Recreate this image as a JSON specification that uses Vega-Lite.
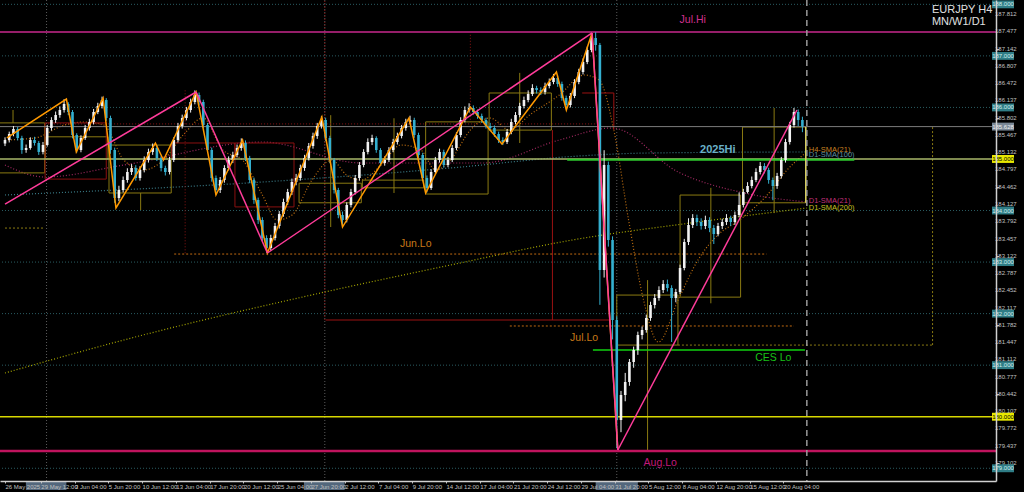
{
"$schema": "https://vega.github.io/schema/vega-lite/v6.json",
"width": 996, "height": 481,
"autosize": {"type": "none"},
"padding": {"left": 0, "top": 0, "right": 28, "bottom": 11},
"background": "#000000",
"config": {"view": {"stroke": null}, "font": "Liberation Sans", "axis": {"labelOverlap": false}},
"resolve": {"scale": {"color": "independent"}},
"layer": [
{"data": {"values": [{"p":188},{"p":187},{"p":186},{"p":184},{"p":183},{"p":182},{"p":181},{"p":179}]},
 "mark": {"type":"rule","color":"#2a5c62","strokeDash":[1,2],"strokeWidth":1},
 "encoding": {"y": {"field":"p","type":"quantitative","scale":{"domain":[178.753,188.084],"nice":false,"zero":false},
   "axis": {"orient":"right","title":null,"values":[187.812,187.477,187.142,186.807,186.472,186.137,185.802,185.467,185.132,184.797,184.462,184.127,183.792,183.457,183.122,182.787,182.452,182.117,181.782,181.447,181.112,180.777,180.442,180.107,179.772,179.437,179.102],
   "labels":false,"tickColor":"#c0c0c0","tickSize":3,"domainColor":"#d0d0d0","domainWidth":1.5,"grid":false,"zindex":1}}}},
{"data": {"values": [{"v":187.812},{"v":187.477},{"v":187.142},{"v":186.807},{"v":186.472},{"v":186.137},{"v":185.802},{"v":185.467},{"v":185.132},{"v":184.797},{"v":184.462},{"v":184.127},{"v":183.792},{"v":183.457},{"v":183.122},{"v":182.787},{"v":182.452},{"v":182.117},{"v":181.782},{"v":181.447},{"v":181.112},{"v":180.777},{"v":180.442},{"v":180.107},{"v":179.772},{"v":179.437},{"v":179.102}]},
 "mark": {"type":"text","fontSize":6,"align":"left","baseline":"middle","color":"#c0c0c0","dx":4},
 "encoding": {"x": {"datum":467.4,"type":"quantitative"},"y": {"field":"v","type":"quantitative"},"text": {"field":"v","type":"quantitative","format":".3f"}}},
{"data": {"values": [{"i":19.7},{"i":151.6},{"i":290}]},
 "mark": {"type":"rule","color":"#5c5c5c","strokeDash":[1,2]},
 "encoding": {"x": {"field":"i","type":"quantitative","scale":{"domain":[0,467.4],"nice":false,"zero":false},
   "axis": {"orient":"bottom","title":null,"values":[0,17,33,49,65,81,97,113,129,145,161,177,193,209,225,241,257,273,289,305,321,337,353,369],
   "labelExpr":"datum.value < 10 ? '26 May 2025' : ['29 May 12:00','3 Jun 04:00','5 Jun 20:00','10 Jun 12:00','13 Jun 04:00','17 Jun 20:00','20 Jun 12:00','25 Jun 04:00','27 Jun 20:00','2 Jul 12:00','7 Jul 04:00','9 Jul 20:00','14 Jul 12:00','17 Jul 04:00','21 Jul 20:00','24 Jul 12:00','29 Jul 04:00','31 Jul 20:00','5 Aug 12:00','8 Aug 04:00','12 Aug 20:00','15 Aug 12:00','20 Aug 04:00'][round((datum.value-17)/16)]",
   "labelAlign":"left","labelFontSize":6,"labelColor":"#c0c0c0","tickColor":"#c0c0c0","tickSize":2,"domainColor":"#d0d0d0","domainWidth":1.5,"labelPadding":0,"grid":false,"labelOverlap":false,"labelBound":false,"labelFlush":false,"zindex":1}}}},
{"data": {"values": [{"i":0,"p":180.848},{"i":56.3,"p":181.488},{"i":151.6,"p":182.419},{"i":211.2,"p":182.943},{"i":268.9,"p":183.428},{"i":328.5,"p":183.777},{"i":380.1,"p":184.049}]},
 "mark": {"type":"line","color":"#a8a800","strokeDash":[1,2],"strokeWidth":1.2,"interpolate":"monotone"},
 "encoding": {"x": {"field":"i","type":"quantitative"},"y": {"field":"p","type":"quantitative"}}},
{"data": {"values": [{"i":0,"p":184.301},{"i":122,"p":184.553},{"i":211.2,"p":184.825},{"i":272.2,"p":185.058},{"i":305,"p":185.116},{"i":380.1,"p":185.136}]},
 "mark": {"type":"line","color":"#3a7c88","strokeDash":[1,2],"strokeWidth":1.2,"interpolate":"monotone"},
 "encoding": {"x": {"field":"i","type":"quantitative"},"y": {"field":"p","type":"quantitative"}}},
{"data": {"values": [{"i":0,"p":184.883},{"i":18.8,"p":184.65},{"i":56.3,"p":184.883},{"i":122,"p":185.329},{"i":168.9,"p":184.922},{"i":226.7,"p":184.922},{"i":262.8,"p":185.368},{"i":287.7,"p":185.601},{"i":319.1,"p":184.747},{"i":350.5,"p":184.34},{"i":380.1,"p":184.165}]},
 "mark": {"type":"line","color":"#a02860","strokeDash":[1,2],"strokeWidth":1.2,"interpolate":"monotone"},
 "encoding": {"x": {"field":"i","type":"quantitative"},"y": {"field":"p","type":"quantitative"}}},
{"data": {"values": [{"i":0,"p":185.368},{"i":14.1,"p":185.407},{"i":28.2,"p":185.659},{"i":37.5,"p":185.717},{"i":46.9,"p":185.659},{"i":56.3,"p":184.98},{"i":65.7,"p":184.786},{"i":75.1,"p":184.98},{"i":84.5,"p":185.465},{"i":93.9,"p":185.795},{"i":103.2,"p":185.174},{"i":112.6,"p":184.98},{"i":122,"p":184.301},{"i":129,"p":183.816},{"i":136.1,"p":183.913},{"i":145.5,"p":184.592},{"i":154.9,"p":184.98},{"i":161.9,"p":184.689},{"i":168.9,"p":184.592},{"i":178.3,"p":184.883},{"i":187.7,"p":185.271},{"i":197.1,"p":185.174},{"i":204.1,"p":184.786},{"i":211.2,"p":184.98},{"i":220.6,"p":185.562},{"i":229.9,"p":185.795},{"i":239.3,"p":185.562},{"i":248.7,"p":185.853},{"i":262.8,"p":186.241},{"i":274.5,"p":186.629},{"i":281.6,"p":186.532},{"i":288.6,"p":185.562},{"i":295.6,"p":183.816},{"i":302.7,"p":182.264},{"i":309.7,"p":181.449},{"i":319.1,"p":182.264},{"i":328.5,"p":183.04},{"i":337.9,"p":183.525},{"i":348.2,"p":183.816},{"i":361.3,"p":184.301},{"i":370.7,"p":184.786},{"i":380.1,"p":185.136}]},
 "mark": {"type":"line","color":"#c07010","strokeDash":[1,2],"strokeWidth":1.2,"interpolate":"monotone"},
 "encoding": {"x": {"field":"i","type":"quantitative"},"y": {"field":"p","type":"quantitative"}}},
{"data": {"values": [{"a":-10.8,"b":18.8,"lo":184.73,"hi":185.7},{"a":19.2,"b":48.8,"lo":185.0,"hi":185.43},{"a":49.3,"b":78.8,"lo":184.34,"hi":185.27},{"a":139.4,"b":168.9,"lo":184.15,"hi":184.53},{"a":169.4,"b":198.5,"lo":184.44,"hi":184.59},{"a":199.4,"b":229,"lo":184.32,"hi":185.72},{"a":229.5,"b":259,"lo":185.56,"hi":186.28},{"a":290,"b":319,"lo":181.39,"hi":182.36},{"a":320,"b":348.7,"lo":182.32,"hi":184.3},{"a":349.6,"b":379.6,"lo":184.15,"hi":185.62}]},
 "mark": {"type":"rect","filled":false,"color":"#8a7a12","strokeWidth":1},
 "encoding": {"x": {"field":"a","type":"quantitative"},"x2": {"field":"b"},"y": {"field":"lo","type":"quantitative"},"y2": {"field":"hi"}}},
{"data": {"values": [{"i":3.8,"lo":185.7,"hi":185.95},{"i":64.3,"lo":184.01,"hi":184.34},{"i":154.4,"lo":183.68,"hi":185.85},{"i":184.4,"lo":184.34,"hi":185.79},{"i":244,"lo":185.31,"hi":186.67},{"i":304.6,"lo":179.35,"hi":182.65},{"i":334.6,"lo":182.2,"hi":184.44},{"i":364.6,"lo":183.95,"hi":185.99}]},
 "mark": {"type":"rule","color":"#8a7a12","strokeWidth":1},
 "encoding": {"x": {"field":"i","type":"quantitative"},"y": {"field":"lo","type":"quantitative"},"y2": {"field":"hi"}}},
{"data": {"values": [{"a":19,"b":48,"lo":184.61,"hi":185.7},{"a":79,"b":109,"lo":185.0,"hi":185.31},{"a":109,"b":137,"lo":184.07,"hi":185.31}]},
 "mark": {"type":"rect","filled":false,"color":"#8a1010","strokeWidth":1},
 "encoding": {"x": {"field":"a","type":"quantitative"},"x2": {"field":"b"},"y": {"field":"lo","type":"quantitative"},"y2": {"field":"hi"}}},
{"data": {"values": [{"a":152,"b":287,"lo":181.876,"hi":181.876},{"a":259.5,"b":259.5,"lo":181.876,"hi":185.56},{"a":273.6,"b":288.6,"lo":186.28,"hi":186.28},{"a":288.6,"b":288.6,"lo":185.56,"hi":186.28}]},
 "mark": {"type":"rule","color":"#9a1212","strokeWidth":1},
 "encoding": {"x": {"field":"a","type":"quantitative"},"x2": {"field":"b"},"y": {"field":"lo","type":"quantitative"},"y2": {"field":"hi"}}},
{"data": {"values": [{"a":85.4,"b":85.4,"lo":183.17,"hi":186.33},{"a":220.6,"b":220.6,"lo":185.76,"hi":187.44},{"a":151.6,"b":151.6,"lo":181.876,"hi":188.084},{"a":19,"b":282,"lo":185.68,"hi":185.68}]},
 "mark": {"type":"rule","color":"#8a1414","strokeWidth":1,"strokeDash":[1,2]},
 "encoding": {"x": {"field":"a","type":"quantitative"},"x2": {"field":"b"},"y": {"field":"lo","type":"quantitative"},"y2": {"field":"hi"}}},
{"data": {"values": [{"a":80.2,"b":361,"p":183.156},{"a":239.3,"b":374,"p":181.76}]},
 "mark": {"type":"rule","color":"#c06a10","strokeWidth":1,"strokeDash":[2,2]},
 "encoding": {"x": {"field":"a","type":"quantitative"},"x2": {"field":"b"},"y": {"field":"p","type":"quantitative"}}},
{"data": {"values": [{"a":0,"b":18.8,"lo":183.66,"hi":183.66},{"a":319,"b":439.7,"lo":181.39,"hi":181.39},{"a":439.7,"b":439.7,"lo":181.39,"hi":185.62}]},
 "mark": {"type":"rule","color":"#8a7a12","strokeWidth":1,"strokeDash":[2,2]},
 "encoding": {"x": {"field":"a","type":"quantitative"},"x2": {"field":"b"},"y": {"field":"lo","type":"quantitative"},"y2": {"field":"hi"}}},
{"data": {"values": [{"p":185.628}]},
 "mark": {"type":"rule","color":"#7c7c7c","strokeWidth":1},
 "encoding": {"y": {"field":"p","type":"quantitative"}}},
{"data": {"values": [{"p":185.0}]},
 "mark": {"type":"rule","color":"#a9b86a","strokeWidth":1.5},
 "encoding": {"y": {"field":"p","type":"quantitative"}}},
{"data": {"values": [{"p":180.0}]},
 "mark": {"type":"rule","color":"#d8d800","strokeWidth":1.5},
 "encoding": {"y": {"field":"p","type":"quantitative"}}},
{"data": {"values": [{"p":187.463}]},
 "mark": {"type":"rule","color":"#c8288c","strokeWidth":1.5},
 "encoding": {"y": {"field":"p","type":"quantitative"}}},
{"data": {"values": [{"p":179.335}]},
 "mark": {"type":"rule","color":"#c0145e","strokeWidth":2.5},
 "encoding": {"y": {"field":"p","type":"quantitative"}}},
{"data": {"values": [{"a":266.5,"b":402.6,"p":184.985}]},
 "mark": {"type":"rule","color":"#2ec82e","strokeWidth":2},
 "encoding": {"x": {"field":"a","type":"quantitative"},"x2": {"field":"b"},"y": {"field":"p","type":"quantitative"}}},
{"data": {"values": [{"a":278.7,"b":379.2,"p":181.294}]},
 "mark": {"type":"rule","color":"#10d010","strokeWidth":1.5},
 "encoding": {"x": {"field":"a","type":"quantitative"},"x2": {"field":"b"},"y": {"field":"p","type":"quantitative"}}},
{"data": {"values": "i,o,h,l,c\n0,185.30,185.42,185.25,185.368\n2,185.368,185.53,185.32,185.484\n4,185.484,185.64,185.44,185.581\n6,185.581,185.62,185.36,185.407\n8,185.407,185.45,185.10,185.174\n10,185.174,185.28,185.12,185.213\n12,185.213,185.42,185.18,185.368\n14,185.368,185.43,185.26,185.310\n16,185.310,185.35,185.08,185.136\n18,185.136,185.33,185.09,185.271\n20,185.271,185.66,185.24,185.601\n22,185.601,185.81,185.55,185.756\n24,185.756,185.92,185.70,185.853\n26,185.853,186.02,185.80,185.950\n28,185.950,186.16,185.90,186.066\n30,186.066,186.10,185.85,185.911\n32,185.911,185.95,185.40,185.465\n34,185.465,185.50,185.12,185.174\n36,185.174,185.46,185.13,185.407\n38,185.407,185.66,185.37,185.601\n40,185.601,185.78,185.55,185.717\n42,185.717,185.97,185.67,185.911\n44,185.911,186.09,185.87,186.028\n46,186.028,186.21,185.98,186.144\n48,186.144,186.18,185.74,185.795\n50,185.795,185.84,185.10,185.174\n52,185.174,185.22,184.15,184.243\n54,184.243,184.48,184.18,184.398\n56,184.398,184.66,184.35,184.592\n58,184.592,184.82,184.54,184.747\n60,184.747,184.90,184.69,184.825\n62,184.825,184.88,184.58,184.631\n64,184.631,184.86,184.58,184.786\n66,184.786,185.05,184.74,184.980\n68,184.980,185.20,184.93,185.136\n70,185.136,185.30,185.08,185.213\n72,185.213,185.27,184.96,185.019\n74,185.019,185.06,184.76,184.825\n76,184.825,184.87,184.68,184.747\n78,184.747,185.04,184.70,184.980\n80,184.980,185.42,184.94,185.368\n82,185.368,185.70,185.32,185.640\n84,185.640,185.86,185.59,185.795\n86,185.795,186.01,185.75,185.950\n88,185.950,186.17,185.90,186.105\n90,186.105,186.33,186.06,186.241\n92,186.241,186.29,186.04,186.105\n94,186.105,186.15,185.60,185.659\n96,185.659,185.70,185.12,185.174\n98,185.174,185.22,184.56,184.631\n100,184.631,184.68,184.31,184.398\n102,184.398,184.65,184.34,184.592\n104,184.592,184.88,184.54,184.825\n106,184.825,185.05,184.78,184.980\n108,184.980,185.14,184.92,185.077\n110,185.077,185.28,185.03,185.213\n112,185.213,185.40,185.16,185.310\n114,185.310,185.36,184.96,185.019\n116,185.019,185.06,184.53,184.592\n118,184.592,184.64,184.13,184.204\n120,184.204,184.25,183.74,183.816\n122,183.816,183.87,183.40,183.467\n124,183.467,183.52,183.18,183.273\n126,183.273,183.53,183.22,183.467\n128,183.467,183.76,183.42,183.700\n130,183.700,183.99,183.65,183.932\n132,183.932,184.23,183.88,184.165\n134,184.165,184.42,184.11,184.359\n136,184.359,184.62,184.30,184.553\n138,184.553,184.71,184.49,184.631\n140,184.631,184.89,184.58,184.825\n142,184.825,185.08,184.77,185.019\n144,185.019,185.31,184.97,185.252\n146,185.252,185.51,185.20,185.446\n148,185.446,185.70,185.39,185.640\n150,185.640,185.83,185.59,185.756\n152,185.756,185.80,185.35,185.407\n154,185.407,185.45,184.92,184.980\n156,184.980,185.02,184.33,184.398\n158,184.398,184.44,183.85,183.913\n160,183.913,183.98,183.68,183.816\n162,183.816,184.16,183.77,184.107\n164,184.107,184.42,184.06,184.359\n166,184.359,184.69,184.31,184.631\n168,184.631,184.94,184.58,184.883\n170,184.883,185.19,184.84,185.136\n172,185.136,185.40,185.09,185.329\n174,185.329,185.47,185.27,185.407\n176,185.407,185.44,185.12,185.174\n178,185.174,185.21,184.86,184.922\n180,184.922,185.05,184.87,184.980\n182,184.980,185.23,184.94,185.174\n184,185.174,185.39,185.13,185.329\n186,185.329,185.51,185.28,185.446\n188,185.446,185.66,185.40,185.601\n190,185.601,185.78,185.55,185.717\n192,185.717,185.84,185.67,185.756\n194,185.756,185.80,185.41,185.465\n196,185.465,185.51,185.02,185.077\n198,185.077,185.12,184.57,184.631\n200,184.631,184.68,184.35,184.437\n202,184.437,184.80,184.40,184.747\n204,184.747,185.04,184.70,184.980\n206,184.980,185.20,184.93,185.136\n208,185.136,185.18,184.83,184.883\n210,184.883,185.04,184.84,184.980\n212,184.980,185.27,184.94,185.213\n214,185.213,185.52,185.17,185.465\n216,185.465,185.81,185.42,185.756\n218,185.756,186.02,185.71,185.950\n220,185.950,186.08,185.90,185.989\n222,185.989,186.04,185.86,185.911\n224,185.911,185.96,185.78,185.834\n226,185.834,185.88,185.70,185.756\n228,185.756,185.80,185.59,185.640\n230,185.640,185.70,185.54,185.601\n232,185.601,185.65,185.43,185.484\n234,185.484,185.53,185.31,185.368\n236,185.368,185.42,185.27,185.329\n238,185.329,185.58,185.29,185.523\n240,185.523,185.78,185.48,185.717\n242,185.717,185.91,185.67,185.853\n244,185.853,186.09,185.81,186.028\n246,186.028,186.21,185.98,186.144\n248,186.144,186.33,186.10,186.260\n250,186.260,186.45,186.22,186.377\n252,186.377,186.42,186.27,186.338\n254,186.338,186.39,186.24,186.299\n256,186.299,186.48,186.25,186.416\n258,186.416,186.56,186.37,186.493\n260,186.493,186.65,186.45,186.571\n262,186.571,186.62,186.40,186.454\n264,186.454,186.50,186.13,186.183\n266,186.183,186.23,185.98,186.047\n268,186.047,186.28,186.00,186.222\n270,186.222,186.55,186.18,186.493\n272,186.493,186.75,186.45,186.687\n274,186.687,186.95,186.64,186.881\n276,186.881,187.18,186.84,187.114\n278,187.114,187.44,187.07,187.347\n280,187.347,187.46,187.10,187.211\n282,187.211,187.25,182.17,182.846\n284,182.846,185.17,182.70,184.883\n286,184.883,184.95,183.30,183.428\n288,183.428,183.50,181.50,181.876\n290,181.876,181.95,179.39,179.936\n292,179.936,180.50,179.70,180.421\n294,180.421,180.85,180.30,180.673\n296,180.673,181.12,180.60,181.061\n298,181.061,181.36,180.95,181.294\n300,181.294,181.65,181.20,181.585\n302,181.585,181.75,181.50,181.682\n304,181.682,181.98,181.63,181.915\n306,181.915,182.23,181.86,182.167\n308,182.167,182.38,182.10,182.303\n310,182.303,182.53,182.25,182.458\n312,182.458,182.65,182.40,182.574\n314,182.574,182.66,182.43,182.497\n316,182.497,182.55,181.45,182.303\n318,182.303,182.48,182.22,182.419\n320,182.419,182.95,182.38,182.885\n322,182.885,183.45,182.84,183.389\n324,183.389,183.85,183.33,183.719\n326,183.719,183.93,183.66,183.855\n328,183.855,183.92,183.70,183.777\n330,183.777,183.85,183.63,183.700\n332,183.700,183.90,183.64,183.816\n334,183.816,183.87,183.58,183.661\n336,183.661,183.72,183.35,183.544\n338,183.544,183.76,183.50,183.700\n340,183.700,183.84,183.64,183.777\n342,183.777,183.93,183.72,183.855\n344,183.855,183.90,183.70,183.777\n346,183.777,183.98,183.72,183.913\n348,183.913,184.35,183.87,184.107\n350,184.107,184.42,184.06,184.359\n352,184.359,184.55,184.33,184.476\n354,184.476,184.66,184.43,184.592\n356,184.592,184.82,184.55,184.747\n358,184.747,184.94,184.70,184.864\n360,184.864,184.92,184.72,184.786\n362,184.786,184.83,184.52,184.592\n364,184.592,184.64,184.20,184.476\n366,184.476,184.73,184.42,184.670\n368,184.670,185.04,184.62,184.980\n370,184.980,185.39,184.93,185.329\n372,185.329,185.72,185.28,185.659\n374,185.659,185.99,185.61,185.911\n376,185.911,185.96,185.64,185.756\n378,185.756,185.82,185.52,185.628",
   "format": {"type":"csv","parse":{"i":"number","o":"number","h":"number","l":"number","c":"number"}}},
 "layer": [
  {"mark": {"type":"rule","strokeWidth":1},
   "encoding": {"x": {"field":"i","type":"quantitative"},"y": {"field":"l","type":"quantitative"},"y2": {"field":"h"},
     "color": {"condition": {"test":"datum.c >= datum.o","value":"#f2f2f2"},"value":"#34b0d0"}}},
  {"mark": {"type":"bar","width":2.6},
   "encoding": {"x": {"field":"i","type":"quantitative"},"y": {"field":"o","type":"quantitative"},"y2": {"field":"c"},
     "color": {"condition": {"test":"datum.c >= datum.o","value":"#f2f2f2"},"value":"#34b0d0"}}}
 ]},
{"data": {"values": [{"i":0.9,"p":185.407},{"i":29.1,"p":186.163},{"i":33.8,"p":185.136},{"i":46.5,"p":186.183},{"i":52.6,"p":184.049},{"i":71.3,"p":185.31},{"i":75.1,"p":184.98},{"i":90.6,"p":186.299},{"i":100,"p":184.301},{"i":112.6,"p":185.368},{"i":124.4,"p":183.176},{"i":150.2,"p":185.814},{"i":160,"p":183.68},{"i":191.5,"p":185.795},{"i":199.4,"p":184.34},{"i":220.6,"p":186.008},{"i":235.6,"p":185.29},{"i":261.4,"p":186.687},{"i":266.1,"p":185.95},{"i":278.3,"p":187.444},{"i":290.5,"p":179.354}]},
 "mark": {"type":"line","color":"#ff9900","strokeWidth":1.5},
 "encoding": {"x": {"field":"i","type":"quantitative"},"y": {"field":"p","type":"quantitative"}}},
{"data": {"values": [{"s":1,"i":0,"p":184.126},{"s":1,"i":90.6,"p":186.299},{"s":2,"i":90.6,"p":186.299},{"s":2,"i":124.4,"p":183.176},{"s":3,"i":124.4,"p":183.176},{"s":3,"i":278.3,"p":187.444},{"s":4,"i":278.3,"p":187.444},{"s":4,"i":290.5,"p":179.354},{"s":5,"i":290.5,"p":179.354},{"s":5,"i":375.4,"p":185.95}]},
 "mark": {"type":"line","color":"#ff3c9a","strokeWidth":1.5},
 "encoding": {"x": {"field":"i","type":"quantitative"},"y": {"field":"p","type":"quantitative"},"detail": {"field":"s"}}},
{"data": {"values": [{"i":379.6,"lo":184.15,"hi":185.62}]},
 "mark": {"type":"rule","color":"#d8d060","strokeWidth":1.5},
 "encoding": {"x": {"field":"i","type":"quantitative"},"y": {"field":"lo","type":"quantitative"},"y2": {"field":"hi"}}},
{"data": {"values": [{"i":380.1}]},
 "mark": {"type":"rule","color":"#9a9a9a","strokeWidth":1.5,"strokeDash":[6,4]},
 "encoding": {"x": {"field":"i","type":"quantitative"}}},
{"data": {"values": [{"t":"Jul.Hi","i":326,"p":187.7},{"t":"Jun.Lo","i":194.7,"p":183.35},{"t":"Jul.Lo","i":274.5,"p":181.53},{"t":"CES Lo","i":364.2,"p":181.14},{"t":"Aug.Lo","i":310.6,"p":179.1}]},
 "mark": {"type":"text","fontSize":10.5,"align":"center","baseline":"middle"},
 "encoding": {"x": {"field":"i","type":"quantitative"},"y": {"field":"p","type":"quantitative"},"text": {"field":"t"},
   "color": {"field":"t","type":"nominal","legend":null,"scale":{"domain":["Jul.Hi","Jun.Lo","Jul.Lo","CES Lo","Aug.Lo"],"range":["#d0308f","#c87818","#c87818","#18c018","#c0187a"]}}}},
{"data": {"values": [{"t":"2025Hi","i":337.9,"p":185.17}]},
 "mark": {"type":"text","fontSize":11,"fontWeight":"bold","align":"center","baseline":"middle","color":"#6ab0c8"},
 "encoding": {"x": {"field":"i","type":"quantitative"},"y": {"field":"p","type":"quantitative"},"text": {"field":"t"}}},
{"data": {"values": [{"t":"H4-SMA(21)","i":381,"p":185.17},{"t":"D1-SMA(100)","i":381,"p":185.08},{"t":"D1-SMA(21)","i":381,"p":184.18},{"t":"D1-SMA(200)","i":381,"p":184.05}]},
 "mark": {"type":"text","fontSize":7.5,"align":"left","baseline":"middle"},
 "encoding": {"x": {"field":"i","type":"quantitative"},"y": {"field":"p","type":"quantitative"},"text": {"field":"t"},
   "color": {"field":"t","type":"nominal","legend":null,"scale":{"domain":["H4-SMA(21)","D1-SMA(100)","D1-SMA(21)","D1-SMA(200)"],"range":["#c88020","#5a8ea0","#c0307a","#c8c020"]}}}},
{"data": {"values": [{"t":"EURJPY H4","i":439.4,"p":187.89},{"t":"MN/W1/D1","i":439.4,"p":187.65}]},
 "mark": {"type":"text","fontSize":11,"align":"left","baseline":"middle","color":"#e0e0e0"},
 "encoding": {"x": {"field":"i","type":"quantitative"},"y": {"field":"p","type":"quantitative"},"text": {"field":"t"}}},
{"data": {"values": [{"p":188},{"p":187},{"p":186},{"p":184},{"p":183},{"p":182},{"p":181},{"p":179}]},
 "layer": [
  {"mark": {"type":"point","filled":true,"opacity":1,"size":484,"shape":"M-1,-0.36H1V0.36H-1Z","color":"#2f7d86"},
   "encoding": {"x": {"datum":473.1,"type":"quantitative"},"y": {"field":"p","type":"quantitative"}}},
  {"mark": {"type":"text","fontSize":6,"align":"center","baseline":"middle","color":"#d0eeee"},
   "encoding": {"x": {"datum":473.1,"type":"quantitative"},"y": {"field":"p","type":"quantitative"},"text": {"field":"p","type":"quantitative","format":".3f"}}}
 ]},
{"data": {"values": [{"p":185},{"p":180}]},
 "layer": [
  {"mark": {"type":"point","filled":true,"opacity":1,"size":484,"shape":"M-1,-0.36H1V0.36H-1Z","color":"#e8e800"},
   "encoding": {"x": {"datum":473.1,"type":"quantitative"},"y": {"field":"p","type":"quantitative"}}},
  {"mark": {"type":"text","fontSize":6,"align":"center","baseline":"middle","color":"#000000"},
   "encoding": {"x": {"datum":473.1,"type":"quantitative"},"y": {"field":"p","type":"quantitative"},"text": {"field":"p","type":"quantitative","format":".3f"}}}
 ]},
{"data": {"values": [{"p":185.628}]},
 "layer": [
  {"mark": {"type":"point","filled":true,"opacity":1,"size":484,"shape":"M-1,-0.36H1V0.36H-1Z","color":"#7a8896"},
   "encoding": {"x": {"datum":473.1,"type":"quantitative"},"y": {"field":"p","type":"quantitative"}}},
  {"mark": {"type":"text","fontSize":6,"align":"center","baseline":"middle","color":"#f0f0f0"},
   "encoding": {"x": {"datum":473.1,"type":"quantitative"},"y": {"field":"p","type":"quantitative"},"text": {"field":"p","type":"quantitative","format":".3f"}}}
 ]},
{"data": {"values": [{"a":9.9,"b":29.1},{"a":141.7,"b":161},{"a":280,"b":300}]},
 "mark": {"type":"rect","color":"#6f8aa5","opacity":0.75},
 "encoding": {"x": {"field":"a","type":"quantitative"},"x2": {"field":"b"},"y": {"datum":178.733,"type":"quantitative"},"y2": {"datum":178.58}}}
]
}
